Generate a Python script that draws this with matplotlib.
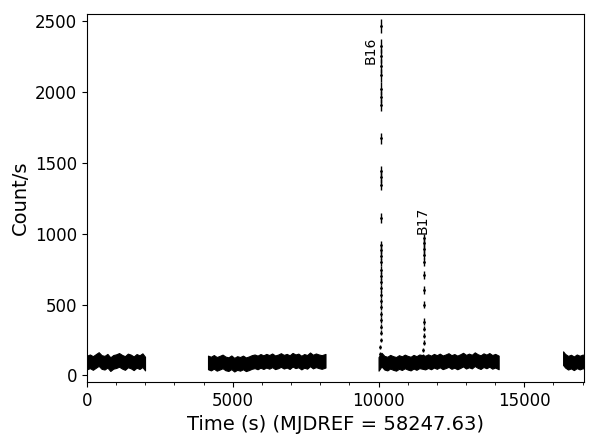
import numpy as np
import matplotlib
matplotlib.use("Agg")
import matplotlib.pyplot as plt
from matplotlib.ticker import MultipleLocator

# persistent emission: segment times (s) and mean count rates
seg1_t = [0, 100, 200, 300, 400, 500, 600, 700, 800, 900, 1000,
          1100, 1200, 1300, 1400, 1500, 1600, 1700, 1800, 1900, 1990]
seg1_r = [92, 100, 88, 102, 116, 95, 90, 104, 80, 96, 101,
          110, 97, 88, 106, 99, 86, 103, 94, 108, 84]

seg2_t = [4150, 4250, 4350, 4450, 4550, 4650, 4750, 4850, 4950, 5050,
          5150, 5250, 5350, 5450, 5550, 5650, 5750, 5850, 5950, 6050,
          6150, 6250, 6350, 6450, 6550, 6650, 6750, 6850, 6950, 7050,
          7150, 7250, 7350, 7450, 7550, 7650, 7750, 7850, 7950, 8050, 8180]
seg2_r = [92, 84, 96, 82, 90, 99, 85, 80, 93, 76,
          88, 82, 92, 79, 86, 95, 100, 92, 103, 94,
          104, 96, 107, 93, 99, 109, 97, 104, 94, 111,
          100, 106, 91, 103, 96, 114, 98, 107, 100, 95, 104]

seg3_t = [10000, 10100, 10200, 10300, 10400, 10500, 10600, 10700, 10800, 10900,
          11000, 11100, 11200, 11300, 11400, 11600, 11700, 11800, 11900, 12000,
          12100, 12200, 12300, 12400, 12500, 12600, 12700, 12800, 12900, 13000,
          13100, 13200, 13300, 13400, 13500, 13600, 13700, 13800, 13900, 14000, 14120]
seg3_r = [82, 112, 90, 84, 97, 88, 82, 95, 87, 99,
          90, 84, 97, 88, 100, 91, 101, 92, 104, 95,
          106, 93, 100, 109, 95, 103, 92, 101, 112, 97,
          106, 98, 115, 102, 94, 108, 99, 110, 96, 104, 92]

seg4_t = [16330, 16400, 16500, 16600, 16700, 16800, 16900, 17000, 17100]
seg4_r = [122, 104, 90, 98, 86, 100, 91, 99, 95]

rate_err = 48

# burst B16 and B17 bins (count/s)
b16_t = [10060, 10065, 10068, 10070, 10072, 10074, 10076, 10077, 10078, 10079,
         10080, 10081, 10082, 10083, 10084, 10085, 10086, 10087, 10088, 10089,
         10090, 10091, 10092, 10093, 10094, 10095, 10096, 10097, 10098, 10099, 10100]
b16_r = [150, 200, 250, 300, 345, 390, 435, 480, 525, 570,
         615, 660, 700, 745, 800, 845, 885, 920, 1110, 1345,
         1395, 1440, 1670, 1905, 1960, 2020, 2115, 2180, 2250, 2320, 2460]
b16_e = [15, 15, 16, 17, 18, 19, 20, 21, 22, 23,
         24, 25, 26, 27, 28, 29, 30, 30, 33, 36,
         37, 38, 40, 43, 44, 44, 45, 46, 47, 48, 49]

b17_t = [11535, 11539, 11542, 11544, 11546, 11548, 11550, 11552, 11554, 11556,
         11558, 11560, 11562, 11564]
b17_r = [140, 180, 230, 280, 330, 380, 500, 600, 710, 800,
         850, 890, 930, 965]
b17_e = [14, 16, 17, 19, 20, 22, 25, 27, 29, 31,
         32, 33, 34, 35]

fig = plt.figure(figsize=(5.96, 4.42), dpi=100)
ax = fig.add_axes([0.146, 0.136, 0.834, 0.832])

for t, r in [(seg1_t, seg1_r), (seg2_t, seg2_r), (seg3_t, seg3_r), (seg4_t, seg4_r)]:
    t = np.array(t)
    r = np.array(r)
    ax.fill_between(t, r - rate_err, r + rate_err, color="black", lw=0.8)

ax.errorbar(b16_t, b16_r, yerr=b16_e, fmt=".", color="black", ms=2, elinewidth=1, capsize=0)
ax.errorbar(b17_t, b17_r, yerr=b17_e, fmt=".", color="black", ms=2, elinewidth=1, capsize=0)

ax.text(9720, 2195, "B16", rotation=90, ha="center", va="bottom", fontsize=10)
ax.text(11510, 995, "B17", rotation=90, ha="center", va="bottom", fontsize=10)

ax.set_xlim(0, 17050)
ax.set_ylim(-45, 2545)
ax.set_yticks([0, 500, 1000, 1500, 2000, 2500])
ax.set_xticks([0, 5000, 10000, 15000])
ax.xaxis.set_minor_locator(MultipleLocator(1000))
ax.tick_params(axis="both", labelsize=12)
ax.set_xlabel("Time (s) (MJDREF = 58247.63)", fontsize=14)
ax.set_ylabel("Count/s", fontsize=14)

fig.savefig("out.png", dpi=100)
